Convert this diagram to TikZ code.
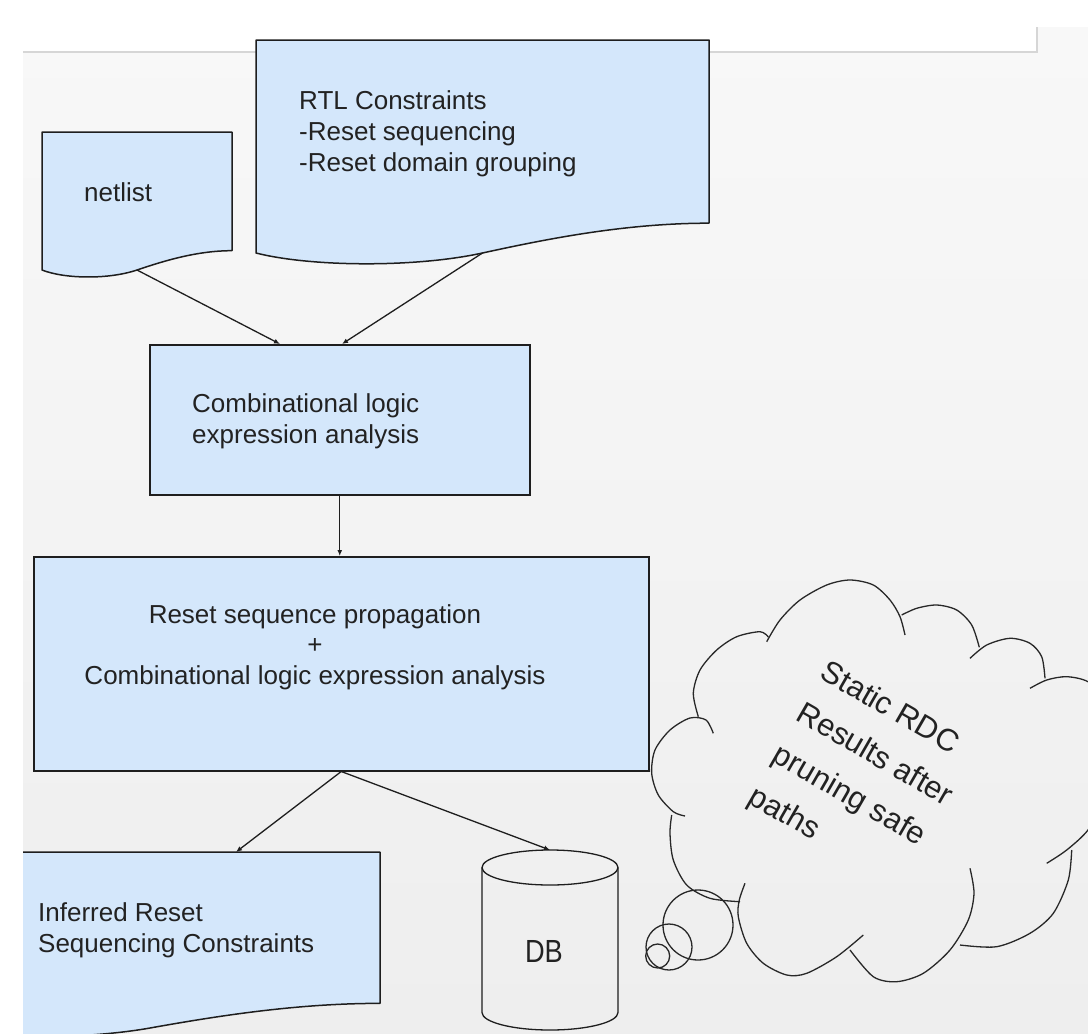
\documentclass[tikz,border=0pt]{standalone}
\usepackage{fontspec}
\setmainfont{Liberation Sans}
\usetikzlibrary{arrows.meta,calc}
\definecolor{boxblue}{RGB}{212,231,251}
\definecolor{paneltop}{RGB}{248,248,248}
\definecolor{panelbot}{RGB}{238,238,238}
\definecolor{edgecol}{RGB}{30,30,30}
\definecolor{txtcol}{RGB}{34,34,34}
\definecolor{shadowgray}{RGB}{214,214,214}
\definecolor{cloudcol}{RGB}{40,40,40}
% document shape: style, x, y, w, h (y downwards)
\newcommand\docshape[5]{%
  \path[#1] (#2,#3) -- ({#2+#4},#3) -- ({#2+#4},{#3+0.86*#5})
    .. controls ({#2+0.82*#4},{#3+0.86*#5}) and ({#2+0.65*#4},{#3+0.93*#5}) .. ({#2+0.5*#4},{#3+#5})
    .. controls ({#2+0.35*#4},{#3+1.07*#5}) and ({#2+0.12*#4},{#3+1.065*#5}) .. ({#2},{#3+#5}) -- cycle;}
\begin{document}
\begin{tikzpicture}[x=1pt,y=-1pt,
  docbox/.style={fill=boxblue,draw=edgecol,line width=1.5pt,line join=round},
  boxnode/.style={rectangle,fill=boxblue,draw=edgecol,line width=1.5pt,inner sep=0pt,anchor=north west},
  txt/.style={font=\fontsize{26}{31}\selectfont,inner sep=0pt,text=txtcol},
  arr/.style={draw=edgecol,line width=1.3pt,-{Latex[length=6pt,width=5pt]}},
  cloudline/.style={draw=cloudcol,line width=1.3pt},
  dbline/.style={draw=edgecol,line width=1.3pt}]
\clip (0,0) rectangle (1088,1034);
\fill[white] (0,0) rectangle (1088,1034);
\shade[top color=paneltop,bottom color=panelbot] (23,27) rectangle (1088,1034);
\fill[white] (0,0) rectangle (1037,52);
\fill[white] (0,0) rectangle (1088,27);
\draw[shadowgray,line width=2pt] (23,52) -- (1037,52) -- (1037,27);

% document shapes
\docshape{docbox}{42}{132}{190}{138}
\docshape{docbox}{256}{40}{453}{213}
\begin{scope}
  \clip (23,0) rectangle (1088,1034);
  \docshape{docbox}{-80}{852}{460}{176}
\end{scope}
\coordinate (netlistout) at (137,270);
\coordinate (rtlout) at (482.5,253);
\coordinate (inferredin) at (236,852);

% boxes
\node[boxnode,minimum width=380pt,minimum height=150pt] (comb) at (149,344) {};
\node[boxnode,minimum width=615pt,minimum height=214pt] (reset) at (33,556) {};

% DB cylinder
\draw[dbline] (482,867.5) -- (482,1012.5) arc[start angle=180,end angle=0,x radius=68,y radius=17.5] -- (618,867.5);
\draw[dbline] (550,867.5) ellipse[x radius=68,y radius=17.5];
\coordinate (dbin) at (550,850);

% texts
\node[txt,anchor=north west] (netlisttxt) at (84,182) {netlist};
\node[txt,anchor=north west,align=left] (rtltxt) at (299,90) {RTL Constraints\\-Reset sequencing\\-Reset domain grouping};
\node[txt,anchor=north west,align=left] (combtxt) at (192,393) {Combinational logic\\expression analysis};
\node[txt,anchor=north,align=center,font=\fontsize{26}{30.5}\selectfont] (resettxt) at (315,604) {Reset sequence propagation\\+\\Combinational logic expression analysis};
\node[txt,anchor=north west,align=left] (inferredtxt) at (38,902) {Inferred Reset\\Sequencing Constraints};
\node[txt,anchor=base,font=\fontsize{32}{36}\selectfont] (dbtxt) at (544,962) {\scalebox{0.85}[1]{DB}};

% connectors
\draw[arr] (netlistout) -- ($(comb.north west)+(131,0)$);
\draw[arr] (rtlout) -- ($(comb.north west)+(193,0)$);
\draw[arr] (comb.south) -- (comb.south |- reset.north);
\draw[arr] (reset.south) -- (inferredin);
\draw[arr] (reset.south) -- (dbin);

% cloud
\draw[cloudline] plot[smooth] coordinates {(766.7,641.7) (780,620) (800,600) (826.7,585) (850,580) (873.3,585) (890,600) (900,616.7) (905,635)};
\draw[cloudline] plot[smooth] coordinates {(901.7,615) (916.7,608.3) (936.7,605) (956.7,610) (971.7,625) (979.3,647.3)};
\draw[cloudline] plot[smooth] coordinates {(970,658.3) (986.7,645) (1010,638.3) (1030,643.3) (1041.7,656.7) (1045,678.3)};
\draw[cloudline] plot[smooth] coordinates {(1030,688.3) (1046.7,680) (1066.7,676.7) (1088,681.7) (1110,700)};
\draw[cloudline] plot[smooth] coordinates {(1046.7,863.3) (1066.7,850) (1088,830) (1105,800)};
\draw[cloudline] plot[smooth] coordinates {(1071.7,850) (1068.3,880) (1053.3,913.3) (1030,933.3) (996.7,946.7) (960,945)};
\draw[cloudline] plot[smooth] coordinates {(970,868.3) (974,893.3) (968.3,920) (950,950) (923.3,973.3) (896.7,981.7) (873.3,976.7) (850,950)};
\draw[cloudline] plot[smooth] coordinates {(863.3,935) (836.7,956.7) (806.7,973.3) (786.7,975) (763.3,963.3) (746.7,943.3) (738.3,916.7) (739.3,900) (745,883.3)};
\draw[cloudline] plot[smooth] coordinates {(740,901.7) (710,898.3) (686.7,885) (673.3,860) (670,833.3) (671.7,815)};
\draw[cloudline] plot[smooth] coordinates {(685,816) (673.3,811.7) (658.3,795) (651.7,773.3) (655,750) (670,730) (690,718) (706,720) (713.3,733.3)};
\draw[cloudline] plot[smooth] coordinates {(698.3,716.7) (693.3,693.3) (700,670) (716.7,650) (736.7,636.7) (760,631.7) (768.3,637)};
\draw[cloudline] (698,925) circle[radius=35];
\draw[cloudline] (669,947) circle[radius=23];
\draw[cloudline] (657.7,956) circle[radius=12];
\node[txt,anchor=north west,align=left,rotate=-30,font=\fontsize{31}{48}\selectfont] (cloudtxt) at (830,658) {Static RDC\\Results after\\pruning safe\\paths};
\end{tikzpicture}
\end{document}
